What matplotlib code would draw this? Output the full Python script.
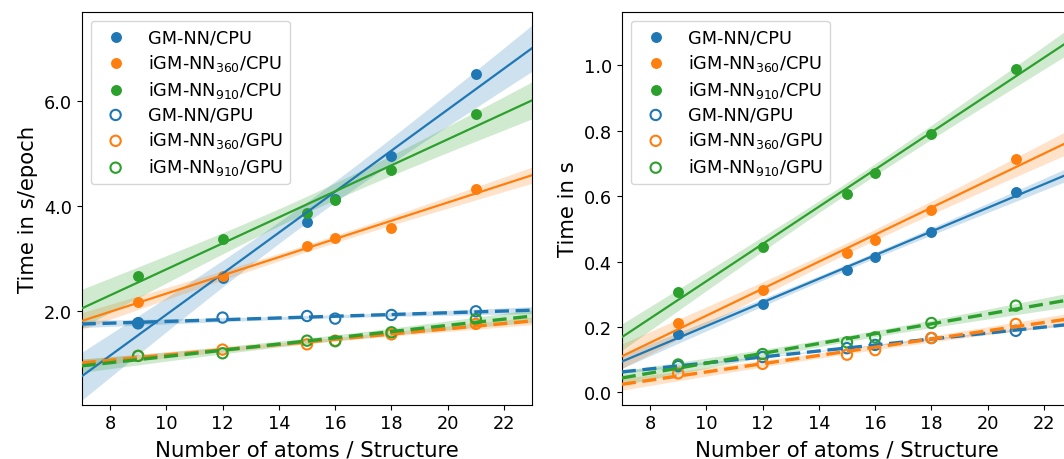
import numpy as np
import matplotlib
matplotlib.use("Agg")
import matplotlib.pyplot as plt
from matplotlib.ticker import MultipleLocator, FormatStrFormatter

# Number of atoms per structure
n_atoms = [9, 12, 15, 16, 18, 21]

# Training time in s/epoch
train_gmnn_cpu = [1.78, 2.62, 3.69, 4.12, 4.95, 6.50]
train_igmnn360_cpu = [2.17, 2.66, 3.23, 3.39, 3.58, 4.31]
train_igmnn910_cpu = [2.66, 3.36, 3.86, 4.10, 4.69, 5.74]
train_gmnn_gpu = [1.76, 1.87, 1.90, 1.85, 1.92, 1.99]
train_igmnn360_gpu = [1.14, 1.26, 1.36, 1.43, 1.55, 1.75]
train_igmnn910_gpu = [1.14, 1.19, 1.43, 1.42, 1.59, 1.84]

# Time in s
time_gmnn_cpu = [0.178, 0.270, 0.374, 0.413, 0.489, 0.612]
time_igmnn360_cpu = [0.212, 0.313, 0.425, 0.466, 0.558, 0.712]
time_igmnn910_cpu = [0.306, 0.443, 0.606, 0.670, 0.790, 0.989]
time_gmnn_gpu = [0.080, 0.108, 0.135, 0.145, 0.166, 0.188]
time_igmnn360_gpu = [0.058, 0.087, 0.115, 0.129, 0.166, 0.209]
time_igmnn910_gpu = [0.085, 0.117, 0.153, 0.168, 0.212, 0.265]

labels = ["GM-NN/CPU", r"iGM-NN$_{360}$/CPU", r"iGM-NN$_{910}$/CPU",
          "GM-NN/GPU", r"iGM-NN$_{360}$/GPU", r"iGM-NN$_{910}$/GPU"]
colors = ["#1f77b4", "#ff7f0e", "#2ca02c"] * 2

plt.rcParams["mathtext.default"] = "regular"
plt.rcParams["font.family"] = "DejaVu Sans"

T_975_DF4 = 2.776  # Student t quantile, 95 % two-sided, n - 2 = 4


def regplot(ax, x, y, color, label, gpu, xlim):
    x = np.asarray(x, float)
    y = np.asarray(y, float)
    if gpu:
        ax.scatter(x, y, s=55, facecolors="none", edgecolors=color,
                   linewidths=1.5, label=label, zorder=3)
    else:
        ax.scatter(x, y, s=62, color=color, label=label, zorder=3,
                   linewidths=0)
    slope, icpt = np.polyfit(x, y, 1)
    grid = np.linspace(xlim[0], xlim[1], 200)
    fit = icpt + slope * grid
    resid = y - (icpt + slope * x)
    n = len(x)
    s = np.sqrt(np.sum(resid ** 2) / (n - 2))
    sxx = np.sum((x - x.mean()) ** 2)
    se = s * np.sqrt(1.0 / n + (grid - x.mean()) ** 2 / sxx)
    half = 0.75 * T_975_DF4 * se
    ax.fill_between(grid, fit - half, fit + half, color=color, alpha=0.22,
                    linewidth=0, zorder=2)
    if gpu:
        ax.plot(grid, fit, color=color, lw=2.4, ls=(0, (4.2, 2.0)), zorder=4)
    else:
        ax.plot(grid, fit, color=color, lw=1.6, zorder=4)


fig = plt.figure(figsize=(10.64, 4.6), dpi=100)
ax1 = fig.add_axes([0.0769, 0.118, 0.4233, 0.8537])
ax2 = fig.add_axes([0.5845, 0.118, 0.4231, 0.8537])

xlim = (7, 23)
left_series = [train_gmnn_cpu, train_igmnn360_cpu, train_igmnn910_cpu,
               train_gmnn_gpu, train_igmnn360_gpu, train_igmnn910_gpu]
right_series = [time_gmnn_cpu, time_igmnn360_cpu, time_igmnn910_cpu,
                time_gmnn_gpu, time_igmnn360_gpu, time_igmnn910_gpu]

for i, (ys, lab, c) in enumerate(zip(left_series, labels, colors)):
    regplot(ax1, n_atoms, ys, c, lab, i >= 3, xlim)
for i, (ys, lab, c) in enumerate(zip(right_series, labels, colors)):
    regplot(ax2, n_atoms, ys, c, lab, i >= 3, xlim)

ax1.set_ylim(0.21, 7.69)
ax1.yaxis.set_major_locator(MultipleLocator(2))
ax1.set_ylabel("Time in s/epoch", fontsize=15.3)
ax2.set_ylim(-0.038, 1.163)
ax2.yaxis.set_major_locator(MultipleLocator(0.2))
ax2.set_ylabel("Time in s", fontsize=15.3)

for ax in (ax1, ax2):
    ax.set_xlim(*xlim)
    ax.xaxis.set_major_locator(MultipleLocator(2))
    ax.yaxis.set_major_formatter(FormatStrFormatter("%.1f"))
    ax.set_xlabel("Number of atoms / Structure", fontsize=15.3, labelpad=5)
    ax.tick_params(labelsize=12.8)
    ax.legend(loc="upper left", fontsize=12.8, scatterpoints=1,
              labelspacing=0.33)

fig.savefig("out.png", dpi=100)
